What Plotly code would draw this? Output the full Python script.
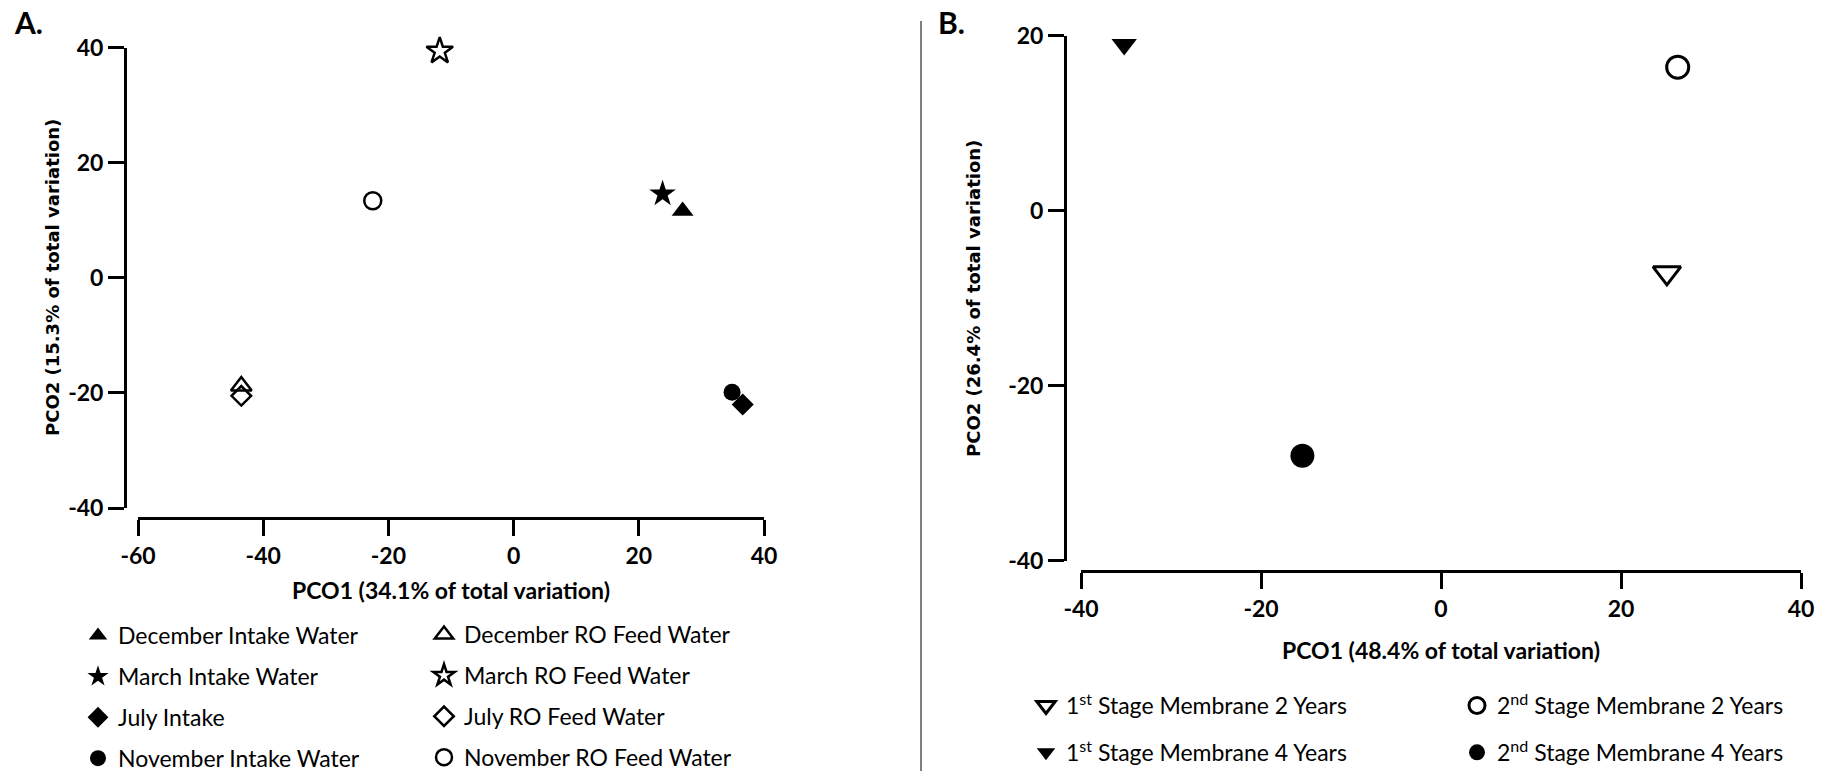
import plotly.graph_objects as go

W, H = 1825, 771

# ---------------- data ----------------
# Panel A (PCO of water samples)
a_names = ["December Intake Water", "March Intake Water", "July Intake", "November Intake Water",
           "December RO Feed Water", "March RO Feed Water", "July RO Feed Water", "November RO Feed Water"]
a_pco1 = [27.0, 23.8, 36.6, 34.9, -43.5, -11.8, -43.5, -22.5]
a_pco2 = [11.6, 14.6, -22.0, -19.9, -18.8, 39.4, -20.5, 13.4]
a_xticks = [-60, -40, -20, 0, 20, 40]
a_xticktext = ["-60", "-40", "-20", "0", "20", "40"]
a_yticks = [-40, -20, 0, 20, 40]
a_yticktext = ["-40", "-20", "0", "20", "40"]

# Panel B (PCO of membranes)
b_names = ["1<sup>st</sup> Stage Membrane 2 Years", "1<sup>st</sup> Stage Membrane 4 Years",
           "2<sup>nd</sup> Stage Membrane 2 Years", "2<sup>nd</sup> Stage Membrane 4 Years"]
b_pco1 = [25.1, -35.2, 26.3, -15.4]
b_pco2 = [-7.1, 19.0, 16.4, -28.0]
b_xticks = [-40, -20, 0, 20, 40]
b_xticktext = ["-40", "-20", "0", "20", "40"]
b_yticks = [-40, -20, 0, 20]
b_yticktext = ["-40", "-20", "0", "20"]

# ---------------- styles ----------------
a_style = [
    dict(symbol="triangle-up", size=19, line=0, legend="legend"),
    dict(symbol="star", size=20, line=0, legend="legend"),
    dict(symbol="diamond", size=17, line=0, legend="legend"),
    dict(symbol="circle", size=17, line=0, legend="legend"),
    dict(symbol="triangle-up-open", size=18, line=2.5, legend="legend2"),
    dict(symbol="star-open", size=20, line=2.5, legend="legend2"),
    dict(symbol="diamond-open", size=15, line=2.5, legend="legend2"),
    dict(symbol="circle-open", size=17, line=2.5, legend="legend2"),
]
b_style = [
    dict(symbol="triangle-down-open", size=24, line=3, legend="legend3"),
    dict(symbol="triangle-down", size=22, line=0, legend="legend3"),
    dict(symbol="circle-open", size=22, line=3, legend="legend4"),
    dict(symbol="circle", size=24, line=0, legend="legend4"),
]


def px_x(p):
    return p / W


def px_y(p):
    return 1 - p / H


fig = go.Figure()

for name, xv, yv, st in zip(a_names, a_pco1, a_pco2, a_style):
    fig.add_trace(go.Scatter(
        x=[xv], y=[yv], mode="markers", name=name, xaxis="x", yaxis="y",
        legend=st["legend"], legendgroup=name, cliponaxis=False,
        marker=dict(symbol=st["symbol"], size=st["size"], color="black",
                    line=dict(width=st["line"], color="black")),
    ))

for name, xv, yv, st in zip(b_names, b_pco1, b_pco2, b_style):
    fig.add_trace(go.Scatter(
        x=[xv], y=[yv], mode="markers", name=name, xaxis="x2", yaxis="y2",
        legend=st["legend"], legendgroup=name, cliponaxis=False,
        marker=dict(symbol=st["symbol"], size=st["size"], color="black",
                    line=dict(width=st["line"], color="black")),
    ))

FONT = "Lato, Carlito, sans-serif"
tickfont = dict(family=FONT, size=23, color="black", weight="bold")
axis_common = dict(showgrid=False, zeroline=False, showline=True, linecolor="black", linewidth=3,
                   ticks="outside", ticklen=16, tickwidth=3, tickcolor="black",
                   tickfont=tickfont, fixedrange=True, automargin=False)

legend_common = dict(orientation="v", font=dict(family=FONT, size=23, color="black"),
                     bgcolor="rgba(0,0,0,0)", borderwidth=0, traceorder="grouped",
                     xref="container", yref="container",
                     xanchor="left", yanchor="top", itemsizing="trace", itemclick=False)

fig.update_layout(
    width=W, height=H, margin=dict(l=0, r=0, t=0, b=0, pad=0, autoexpand=False),
    paper_bgcolor="white", plot_bgcolor="white",
    showlegend=True,
    xaxis=dict(axis_common, domain=[px_x(138), px_x(764)], range=[-60, 40],
               tickvals=a_xticks, ticktext=a_xticktext, anchor="free", position=px_y(518)),
    yaxis=dict(axis_common, domain=[px_y(508), px_y(47.7)], range=[-40, 40],
               tickvals=a_yticks, ticktext=a_yticktext, anchor="free", position=px_x(125)),
    xaxis2=dict(axis_common, domain=[px_x(1081), px_x(1801)], range=[-40, 40],
                tickvals=b_xticks, ticktext=b_xticktext, anchor="free", position=px_y(571)),
    yaxis2=dict(axis_common, domain=[px_y(560.7), px_y(35.7)], range=[-40, 20],
                tickvals=b_yticks, ticktext=b_yticktext, anchor="free", position=px_x(1065)),
    legend=dict(legend_common, x=px_x(78), y=px_y(614), tracegroupgap=8),
    legend2=dict(legend_common, x=px_x(424), y=px_y(613), tracegroupgap=8),
    legend3=dict(legend_common, x=px_x(1026), y=px_y(684), tracegroupgap=14),
    legend4=dict(legend_common, x=px_x(1457), y=px_y(684), tracegroupgap=14),
)

title_font = dict(family=FONT, size=23, color="black", weight="bold")
ytitle_font = dict(family="DejaVu Sans, Verdana, sans-serif", size=18, color="black", weight="bold")
label_font = dict(family=FONT, size=30, color="black", weight="bold")

fig.add_annotation(text="PCO1 (34.1% of total variation)", x=px_x(451), y=px_y(590),
                   xref="paper", yref="paper", showarrow=False, font=title_font,
                   xanchor="center", yanchor="middle")
fig.add_annotation(text="PCO1 (48.4% of total variation)", x=px_x(1441), y=px_y(650),
                   xref="paper", yref="paper", showarrow=False, font=title_font,
                   xanchor="center", yanchor="middle")
fig.add_annotation(text="PCO2 (15.3% of total variation)", x=px_x(52), y=px_y(278),
                   xref="paper", yref="paper", showarrow=False, font=ytitle_font, textangle=-90,
                   xanchor="center", yanchor="middle")
fig.add_annotation(text="PCO2 (26.4% of total variation)", x=px_x(974), y=px_y(298),
                   xref="paper", yref="paper", showarrow=False, font=ytitle_font, textangle=-90,
                   xanchor="center", yanchor="middle")
fig.add_annotation(text="A.", x=px_x(12), y=px_y(22), xref="paper", yref="paper",
                   showarrow=False, font=label_font, xanchor="left", yanchor="middle")
fig.add_annotation(text="B.", x=px_x(936), y=px_y(22), xref="paper", yref="paper",
                   showarrow=False, font=label_font, xanchor="left", yanchor="middle")

# divider between panels
fig.add_shape(type="line", xref="paper", yref="paper", x0=px_x(921), x1=px_x(921),
              y0=px_y(21), y1=px_y(771), line=dict(color="#555555", width=1.5))

fig.write_html("out.html")
